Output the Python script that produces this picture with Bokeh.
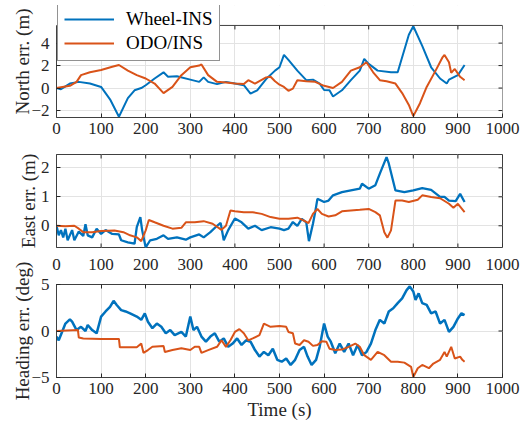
from bokeh.plotting import figure
from bokeh.layouts import column
from bokeh.models import (LinearAxis, Legend, LegendItem, Range1d, FixedTicker, Title,
                          Span, BoxAnnotation)
from bokeh.embed import file_html
from bokeh.resources import INLINE

# ---------------- data ----------------
x_ticks = [0, 100, 200, 300, 400, 500, 600, 700, 800, 900, 1000]

# North error (m)
t_north_wheel = [0,10,30,50,75,100,120,140,160,175,190,200,220,240,250,270,300,320,330,340,360,380,400,420,435,450,470,490,500,510,520,540,560,575,590,600,612,620,640,660,680,690,700,720,750,765,790,800,820,840,860,875,880,900,915]
north_wheel = [0,-0.1,0.4,0.55,0.4,0.1,-1.0,-2.55,-0.9,-0.2,0,0.25,0.85,1.4,1.0,1.05,0.75,0.55,0.95,0.55,0.35,0.55,0.4,0.25,-0.5,-0.2,0.8,1.55,1.85,2.95,2.5,1.55,0.7,0.75,0.4,-0.17,-0.2,-0.75,-0.2,0.7,1.55,2.6,2.15,1.55,1.4,1.4,4.75,5.5,3.75,1.85,0.85,0.4,0.75,1.15,2.05]
t_north_odo = [0,30,45,55,75,100,125,140,160,180,200,220,240,260,280,300,320,325,340,360,380,400,420,430,445,470,480,490,500,510,520,530,540,560,580,600,620,640,660,680,695,710,725,740,760,775,790,800,815,830,850,865,870,880,885,893,905,915]
north_odo = [0,0.2,0.55,1.15,1.4,1.6,1.9,2.05,1.55,1.15,0.85,0.4,-0.45,0.1,1.15,1.85,2.0,2.1,1.15,0.55,0.5,0.4,0.35,0.7,0.4,0.95,1.0,0.6,0.3,0.1,-0.25,-0.05,0.7,0.6,0.55,0.2,0,0.55,1.55,1.85,2.3,1.4,0.7,0.6,0.4,-0.45,-1.5,-2.5,-1.35,0.1,1.55,2.7,2.95,2.3,1.35,1.7,1.0,0.7]

# East error (m)
t_east_wheel = [0,5,10,15,20,25,35,40,50,60,65,70,80,90,100,110,125,140,145,160,175,180,188,192,200,210,225,240,250,270,290,300,320,330,345,360,368,375,385,400,415,430,445,460,480,500,510,520,530,540,550,560,566,575,580,585,600,610,620,640,660,680,685,700,715,725,740,745,760,780,800,820,840,860,870,880,895,905,915]
east_wheel = [0,-0.33,-0.15,-0.4,-0.1,-0.5,-0.15,-0.5,-0.2,-0.35,0.05,-0.33,-0.4,-0.1,-0.28,-0.15,-0.28,-0.3,-0.5,-0.57,-0.62,-0.05,0.3,-0.15,-0.75,-0.5,-0.45,-0.33,-0.45,-0.4,-0.48,-0.4,-0.3,-0.4,-0.22,0,0.1,-0.5,-0.15,0.25,0.12,-0.1,0,-0.15,-0.05,-0.1,-0.15,-0.1,0.13,0,0.24,0.12,-0.53,0.07,0.47,0.93,0.82,0.87,1.05,1.16,1.22,1.28,1.45,1.28,1.4,1.8,2.37,2.15,1.22,1.16,1.22,1.3,1.24,1.0,1.0,0.87,0.85,1.1,0.82]
t_east_odo = [0,20,40,50,60,80,100,130,150,165,180,190,200,207,220,240,260,280,290,310,330,350,370,380,390,400,420,440,460,480,500,520,540,555,565,575,585,595,610,625,640,660,680,700,715,725,735,742,750,760,775,790,810,820,840,860,880,890,900,915]
east_odo = [0,-0.02,0,-0.1,-0.22,-0.22,-0.18,-0.16,-0.22,-0.33,-0.4,-0.53,-0.16,0.2,0.12,0,-0.1,-0.07,0.12,0.12,0.16,0.07,-0.14,0,0.53,0.5,0.47,0.47,0.41,0.3,0.24,0.24,0.28,0.18,0.09,0.41,0.58,0.41,0.32,0.36,0.5,0.53,0.55,0.58,0.47,0.36,-0.22,-0.41,-0.16,0.87,0.87,0.82,0.9,1.05,0.99,0.95,0.76,0.62,0.76,0.47]

# Heading error (deg)
t_head_wheel = [0,5,10,20,30,35,45,55,65,70,80,90,100,110,120,128,135,145,155,165,180,190,198,205,215,225,235,245,255,265,280,290,300,307,315,325,335,345,355,365,375,385,395,405,415,425,435,445,455,465,475,485,495,505,515,525,535,545,555,563,572,582,590,600,608,615,625,635,645,655,665,675,685,695,705,715,725,735,745,755,765,775,785,792,800,805,812,820,830,840,850,860,870,880,890,900,908,915]
head_wheel = [-0.6,-1.0,-0.4,0.8,1.25,1.0,0.1,0.45,0,0.65,0.1,-0.25,1.55,2.1,2.6,3.25,2.8,2.25,2.1,1.9,1.55,1.2,1.9,1.0,0.3,0.8,0.45,-0.25,0.1,-0.45,-0.1,-0.6,1.55,0.1,0.45,-0.6,-1.15,-0.6,-0.25,-1.15,-0.8,-1.7,-1.35,-0.8,-1.5,-1.0,-1.15,-2.05,-2.75,-2.25,-2.6,-1.9,-3.1,-3.3,-2.95,-3.65,-3.1,-2.05,-1.7,-2.75,-3.65,-3.1,-1.7,0.8,-0.6,-1.15,-2.4,-1.35,-2.25,-1.35,-2.6,-1.5,-2.6,-2.25,-1.35,0.1,1.2,0.8,2.1,2.45,3.0,3.5,4.4,4.8,4.25,3.35,4.05,3.0,2.8,1.9,2.1,0.8,1.2,-0.1,0.45,1.35,1.9,1.7]
t_head_odo = [0,48,50,60,100,140,142,180,190,195,205,215,240,243,260,280,300,310,320,325,340,360,370,380,390,400,410,420,430,440,455,465,480,500,515,520,530,535,545,555,565,575,585,595,605,612,625,640,655,670,680,690,705,720,735,750,765,780,795,800,810,820,835,845,860,870,875,885,893,905,910,915]
head_odo = [0,0.1,-0.7,-0.8,-0.85,-0.85,-1.75,-1.75,-1.35,-2.35,-2.05,-1.7,-1.6,-2.25,-2.05,-1.85,-2.05,-1.7,-1.7,-2.35,-2.05,-1.7,-1.0,-1.7,-1.0,-0.1,0.2,-0.25,-1.0,-0.8,-0.45,0.8,0.45,0.55,0.45,-0.1,-0.25,-1.35,-1.5,-1.0,-1.15,-1.6,-1.5,-1.1,-1.15,-1.9,-2.05,-2.0,-1.7,-1.35,-1.7,-2.6,-3.1,-2.25,-2.6,-3.3,-3.3,-3.4,-3.85,-4.95,-4.0,-3.65,-4.0,-3.5,-3.1,-2.25,-2.75,-1.7,-2.95,-2.75,-3.1,-3.3]

series_names = ["Wheel-INS", "ODO/INS"]
colors = ["#0072BD", "#D95319"]

FONT = "Liberation Serif"
AX = "#262626"
BOX = "#404040"
GRID = "#e3e3e3"
TICK_PX = 4
FRAME_W = 446


def style_axis(ax):
    ax.axis_line_color = BOX
    ax.major_tick_line_color = AX
    ax.minor_tick_line_color = None
    ax.major_tick_in = TICK_PX
    ax.major_tick_out = 0
    ax.major_label_text_font = FONT
    ax.major_label_text_color = AX
    ax.major_label_text_font_size = "17px"
    ax.axis_label_text_font = FONT
    ax.axis_label_text_font_size = "19px"
    ax.axis_label_text_font_style = "normal"
    ax.axis_label_text_color = AX


def make_panel(ylabel, yrange, yticks, top, frame_h, bottom, label_standoff,
               box_top=None, x_labels_below=True, x_labels_above=False):
    p = figure(frame_width=FRAME_W, frame_height=frame_h,
               x_range=Range1d(0, 1000), y_range=Range1d(*yrange),
               output_backend="svg", toolbar_location=None,
               min_border_left=56, min_border_right=28,
               min_border_top=top, min_border_bottom=bottom)
    p.background_fill_color = "white"
    p.border_fill_color = "white"
    style_axis(p.yaxis[0])
    p.yaxis[0].ticker = FixedTicker(ticks=yticks)
    p.yaxis[0].major_label_standoff = 7
    p.yaxis[0].axis_label = ylabel
    p.yaxis[0].axis_label_standoff = label_standoff
    if x_labels_below:
        style_axis(p.xaxis[0])
        p.xaxis[0].ticker = FixedTicker(ticks=x_ticks)
        p.xaxis[0].major_label_standoff = 5
    else:
        p.xaxis[0].visible = False
    p.xgrid.ticker = FixedTicker(ticks=x_ticks)
    p.ygrid.ticker = FixedTicker(ticks=yticks)
    p.xgrid.grid_line_color = GRID
    p.ygrid.grid_line_color = GRID

    x0, x1 = 0, 1000
    y0 = yrange[0]
    y1 = yrange[1] if box_top is None else box_top
    dx = (x1 - x0) / FRAME_W * TICK_PX
    dy = (yrange[1] - yrange[0]) / frame_h * TICK_PX
    n_x, n_y = len(x_ticks), len(yticks)

    # inward ticks on the right side of the box
    p.segment(x0=[x1] * n_y, y0=yticks, x1=[x1 - dx] * n_y, y1=yticks,
              line_color=AX, line_width=1)
    # inward ticks on the top side of the box
    if x_labels_above:
        top_ax = LinearAxis(ticker=FixedTicker(ticks=x_ticks))
        style_axis(top_ax)
        top_ax.major_label_standoff = 15
        p.add_layout(top_ax, "above")
    else:
        p.segment(x0=x_ticks, y0=[y1] * n_x, x1=x_ticks, y1=[y1 - dy] * n_x,
                  line_color=AX, line_width=1)
    # inward ticks on the bottom side when the bottom axis is hidden
    if not x_labels_below:
        p.segment(x0=x_ticks, y0=[y0] * n_x, x1=x_ticks, y1=[y0 + dy] * n_x,
                  line_color=AX, line_width=1)

    if box_top is None:
        p.outline_line_color = BOX
        p.outline_line_width = 1
    else:
        # the axes box ends below the frame top: the legend sits over its edge
        p.outline_line_color = None
        p.yaxis[0].bounds = (y0, box_top)
        p.add_layout(BoxAnnotation(bottom=box_top, fill_color="white", fill_alpha=1,
                                   line_color=None, level="underlay"))
        p.add_layout(Span(location=box_top, dimension="width",
                          line_color=BOX, line_width=1))
        p.segment(x0=[x1], y0=[y0], x1=[x1], y1=[box_top], line_color=BOX, line_width=1)
    return p


north_top = 5.57
p1 = make_panel("North err. (m)", (-2.62, 7.345), [-2, 0, 2, 4], 5, 112, 23, -5,
                box_top=north_top)
p2 = make_panel("East err. (m)", (-0.75, 2.46), [0, 1, 2], 14, 93, 1, -1,
                x_labels_below=False)
p3 = make_panel("Heading err. (deg)", (-5, 5), [-5, 0, 5], 36, 93, 53, -5,
                x_labels_above=True)

r1 = p1.line(t_north_wheel, north_wheel, line_color=colors[0], line_width=2)
r2 = p1.line(t_north_odo, north_odo, line_color=colors[1], line_width=2)
p2.line(t_east_wheel, east_wheel, line_color=colors[0], line_width=2.3)
p2.line(t_east_odo, east_odo, line_color=colors[1], line_width=2)
p3.line(t_head_wheel, head_wheel, line_color=colors[0], line_width=2.5)
p3.line(t_head_odo, head_odo, line_color=colors[1], line_width=2)

legend = Legend(items=[LegendItem(label=series_names[0], renderers=[r1]),
                       LegendItem(label=series_names[1], renderers=[r2])],
                location=(1, 56))
legend.label_text_font = FONT
legend.label_text_font_size = "19px"
legend.label_text_color = "#000000"
legend.glyph_width = 50
legend.glyph_height = 20
legend.label_height = 20
legend.label_standoff = 12
legend.spacing = 2
legend.padding = 6
legend.margin = 0
legend.border_line_color = AX
legend.border_line_width = 1
legend.background_fill_color = "white"
legend.background_fill_alpha = 1
p1.add_layout(legend, "center")

t = Title(text="Time (s)", align="center", offset=11,
          text_font=FONT, text_font_size="19px", text_font_style="normal",
          text_color=AX, standoff=0)
p3.add_layout(t, "below")

layout = column(p1, p2, p3, spacing=0)
open("out.html", "w").write(file_html(layout, INLINE))
